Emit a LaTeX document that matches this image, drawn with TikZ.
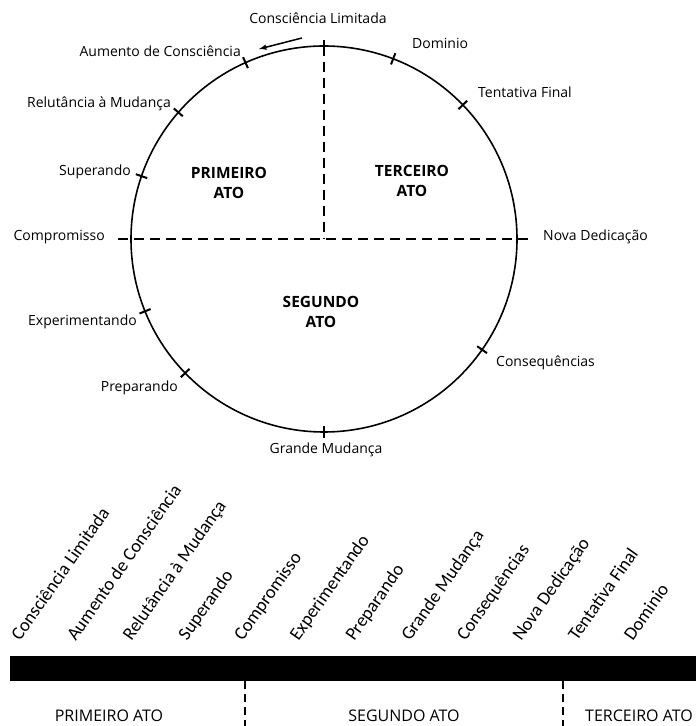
\documentclass[tikz,border=0pt]{standalone}
\usepackage{fontspec}
\setmainfont{Open Sans}
\newfontfamily\stagefont{Carlito}

\begin{document}
\begin{tikzpicture}
        [x=1pt, y=1pt,
        lbl/.style={inner sep=0pt, font=\fontsize{14}{16}\selectfont},
        act/.style={inner sep=0pt, align=center, font=\fontsize{15.5}{20}\selectfont\bfseries},
        stage/.style={inner sep=0pt, anchor=base west, rotate=55, font=\stagefont\fontsize{18.5}{20}\selectfont},
        actname/.style={inner sep=0pt, font=\fontsize{16}{18}\selectfont},
        divider/.style={line width=2.6pt, dash pattern=on 10pt off 6pt},
        actline/.style={line width=2pt, dash pattern=on 8pt off 5pt},
        tickmark/.style={line width=2pt}]
        \useasboundingbox (0,0) rectangle (696,726);

        % the circle
        \coordinate (O) at (324,487);
        \draw[line width=1.6pt] (O) circle[radius=193];
        \foreach \a in {90,114,139,161,202,224,270,325,44,69}
            \draw[tickmark] (O) ++(\a:187) -- ++(\a:12);

        \coordinate (W) at (118,487);
        \coordinate (E) at (530,487);
        \coordinate (N) at (324,680);
        \draw[divider] (W) -- (E);
        \draw[divider] (N) -- (O);

        \coordinate (arrS) at (302,688);
        \coordinate (arrE) at (259,677);
        \draw[line width=1.5pt, -latex] (arrS) -- (arrE);

        \node[lbl] (cl) at (318,708) {Consciência Limitada};
        \node[lbl, anchor=east] (ac) at (241,675) {Aumento de Consciência};
        \node[lbl, anchor=east] (rm) at (171,622) {Relutância à Mudança};
        \node[lbl, anchor=east] (su) at (131,554) {Superando};
        \node[lbl, anchor=east] (co) at (105,489) {Compromisso};
        \node[lbl, anchor=east] (ex) at (137,404) {Experimentando};
        \node[lbl, anchor=east] (pr) at (178,338) {Preparando};
        \node[lbl] (gm) at (326,276) {Grande Mudança};
        \node[lbl, anchor=west] (cq) at (496,363) {Consequências};
        \node[lbl, anchor=west] (nd) at (543,489) {Nova Dedicação};
        \node[lbl, anchor=west] (tf) at (478,634) {Tentativa Final};
        \node[lbl, anchor=west] (dm) at (412,683) {Dominio};

        \node[act] (a1) at (229,543) {PRIMEIRO\\ATO};
        \node[act] (a3) at (412,545) {TERCEIRO\\ATO};
        \node[act] (a2) at (321,414) {SEGUNDO\\ATO};

        % the line below
        \foreach \t [count=\i from 0] in {Consciência Limitada, Aumento de Consciência,
            Relutância à Mudança, Superando, Compromisso, Experimentando, Preparando,
            Grande Mudança, Consequências, Nova Dedicação, Tentativa Final, Dominio}
            \node[stage] (s\i) at ({20+55.7*\i},84) {\t};

        \fill (10,45) rectangle (696,70);

        \coordinate (b1) at (245,45);
        \coordinate (b1e) at (245,0);
        \coordinate (b2) at (563,45);
        \coordinate (b2e) at (563,0);
        \draw[actline] (b1) -- (b1e);
        \draw[actline] (b2) -- (b2e);

        \node[actname] (p1) at (109,10) {PRIMEIRO ATO};
        \node[actname] (p2) at (404,10) {SEGUNDO ATO};
        \node[actname, anchor=west] (p3) at (585,10) {TERCEIRO ATO};

    \end{tikzpicture}
\end{document}
